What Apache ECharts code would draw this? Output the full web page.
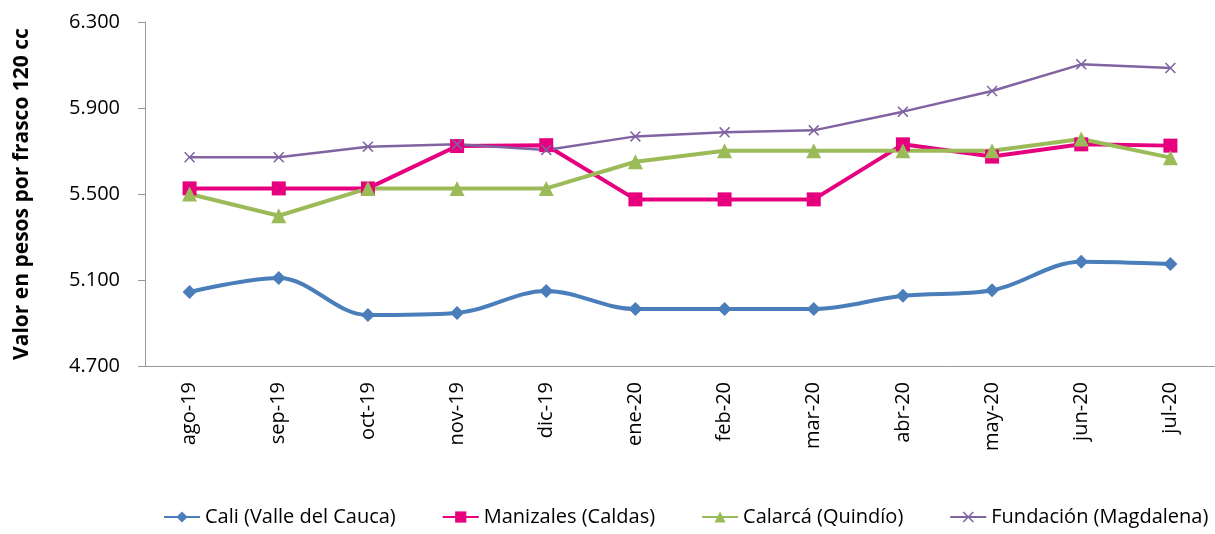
<!DOCTYPE html>
<html lang="es">
<head>
    <meta charset="UTF-8">
    <title>Precio por frasco 120 cc</title>
    <script src="https://cdn.jsdelivr.net/npm/echarts@6/dist/echarts.min.js"></script>
</head>
<body style="margin:0">

<div id="main" style="width: 1215px;height:534px;"></div>

</body>
<script>
    // datos
    var meses = ['ago-19', 'sep-19', 'oct-19', 'nov-19', 'dic-19', 'ene-20', 'feb-20', 'mar-20', 'abr-20', 'may-20', 'jun-20', 'jul-20'];
    var cali = [5044, 5109, 4937, 4947, 5049, 4965, 4965, 4965, 5027, 5052, 5185, 5174];
    var manizales = [5526, 5526, 5526, 5723, 5727, 5475, 5475, 5475, 5731, 5674, 5731, 5725];
    var calarca = [5500, 5399, 5526, 5526, 5526, 5650, 5701, 5701, 5701, 5701, 5756, 5669];
    var fundacion = [5671, 5671, 5720, 5731, 5705, 5768, 5787, 5796, 5883, 5979, 6103, 6086];

    var fuente = '"Open Sans", "Noto Sans", sans-serif';
    var cruz = 'path://M0,1L1,0L5,4L9,0L10,1L6,5L10,9L9,10L5,6L1,10L0,9L4,5Z';

    var mychart = echarts.init(document.getElementById('main'));

    var option = {
        textStyle: {fontFamily: fuente},
        grid: {
            left: 145,
            top: 22,
            width: 1081,
            bottom: 168
        },
        legend: {
            bottom: 2,
            left: 158,
            width: 1057,
            itemWidth: 36,
            itemHeight: 14,
            itemGap: 46,
            textStyle: {fontSize: 20, color: '#000', fontFamily: fuente},
            data: ['Cali (Valle del Cauca)', 'Manizales (Caldas)', 'Calarcá (Quindío)', 'Fundación (Magdalena)']
        },
        xAxis: {
            type: 'category',
            data: meses,
            axisLine: {lineStyle: {color: '#999'}},
            axisTick: {show: false},
            axisLabel: {
                rotate: 90,
                fontSize: 20,
                color: '#000',
                margin: 16
            }
        },
        yAxis: {
            type: 'value',
            min: 4700,
            max: 6300,
            interval: 400,
            name: 'Valor en pesos por frasco 120 cc',
            nameLocation: 'middle',
            nameGap: 112,
            nameTextStyle: {fontSize: 21, fontWeight: 'bold', color: '#000'},
            splitLine: {show: false},
            axisLine: {show: true, lineStyle: {color: '#999'}},
            axisTick: {show: true, length: 7, lineStyle: {color: '#999'}},
            axisLabel: {
                fontSize: 20,
                color: '#000',
                margin: 25,
                formatter: function (v) {
                    return String(v).replace(/\B(?=(\d{3})+(?!\d))/g, '.');
                }
            }
        },
        series: [
            {
                name: 'Cali (Valle del Cauca)',
                type: 'line',
                smooth: 0.35,
                data: cali,
                symbol: 'diamond',
                symbolSize: 14,
                itemStyle: {color: '#4a7ebb'},
                lineStyle: {width: 4, color: '#4a7ebb'}
            },
            {
                name: 'Manizales (Caldas)',
                type: 'line',
                data: manizales,
                symbol: 'rect',
                symbolSize: 14,
                itemStyle: {color: '#e6007e'},
                lineStyle: {width: 4, color: '#e6007e'}
            },
            {
                name: 'Calarcá (Quindío)',
                type: 'line',
                data: calarca,
                symbol: 'triangle',
                symbolSize: 15,
                itemStyle: {color: '#9bbb59'},
                lineStyle: {width: 4, color: '#9bbb59'}
            },
            {
                name: 'Fundación (Magdalena)',
                type: 'line',
                data: fundacion,
                symbol: cruz,
                symbolSize: 11,
                itemStyle: {color: '#8064a2'},
                lineStyle: {width: 2.5, color: '#8064a2'}
            }
        ]
    };

    mychart.setOption(option);

</script>
</html>
